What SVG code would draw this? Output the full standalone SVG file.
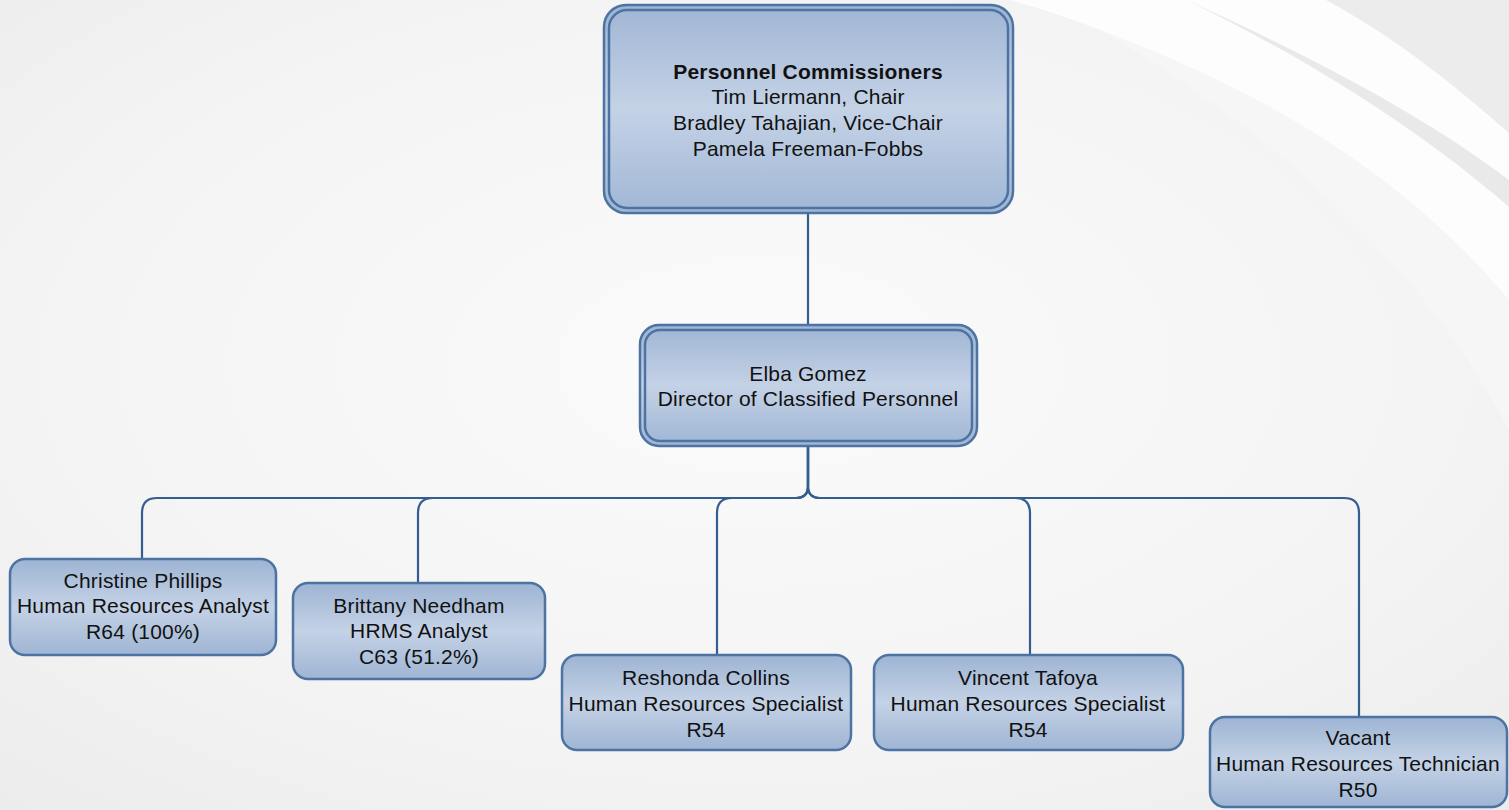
<svg xmlns="http://www.w3.org/2000/svg" width="1509" height="810" viewBox="0 0 1509 810">
<defs>
<radialGradient id="bg" cx="0.5" cy="0.45" r="0.75">
<stop offset="0" stop-color="#fbfbfb"/>
<stop offset="0.6" stop-color="#f4f4f4"/>
<stop offset="1" stop-color="#ececec"/>
</radialGradient>
<linearGradient id="boxfill" x1="0" y1="0" x2="0" y2="1">
<stop offset="0" stop-color="#9db4d3"/>
<stop offset="0.5" stop-color="#c4d2e6"/>
<stop offset="1" stop-color="#9fb5d4"/>
</linearGradient>
<linearGradient id="innerfill" x1="0" y1="0" x2="0" y2="1">
<stop offset="0" stop-color="#a2b7d5"/>
<stop offset="0.5" stop-color="#c4d2e6"/>
<stop offset="1" stop-color="#a2b8d6"/>
</linearGradient>
</defs>
<style>
.box{fill:url(#boxfill);stroke:#4d73a2;stroke-width:2.5}
.inner{fill:url(#innerfill);stroke:#4d73a2;stroke-width:2.5}
.conn path{fill:none;stroke:#345d90;stroke-width:2.2}
text{font-family:"Liberation Sans",Arial,sans-serif;font-size:21px;fill:#111;text-anchor:middle;letter-spacing:0.2px}
.b{font-weight:bold}
</style>
<rect x="0" y="0" width="1509" height="810" fill="url(#bg)"/>
<g id="swoosh">
<path d="M1010,0 L1509,0 L1509,430 C1440,260 1280,110 1100,30 C1070,18 1040,8 1010,0 Z" fill="#fdfdfd"/>
<path d="M1100,30 C1260,90 1400,170 1509,300 L1509,430 C1420,260 1270,130 1100,30 Z" fill="#f6f6f6"/>
<path d="M1186,0 C1320,60 1430,120 1509,180 L1509,207 C1420,130 1310,60 1186,0 Z" fill="#e9e9e9"/>
<path d="M1326,0 C1400,40 1460,90 1509,133 L1509,0 Z" fill="#ececec"/>
</g>
<g id="connectors" class="conn">
<path d="M808,213 V325"/>
<path d="M808,446 V486 Q808,498 796,498 H157 Q142,498 142,513 V559"/>
<path d="M808,446 V486 Q808,498 796,498 H433 Q418,498 418,513 V583"/>
<path d="M808,446 V486 Q808,498 796,498 H732 Q717,498 717,513 V655"/>
<path d="M808,446 V486 Q808,498 820,498 H1015 Q1030,498 1030,513 V655"/>
<path d="M808,446 V486 Q808,498 820,498 H1344 Q1359,498 1359,513 V717"/>
</g>
<g id="commissioners">
<rect class="box" x="604" y="5" width="409" height="208" rx="22"/>
<rect class="inner" x="609" y="10" width="399" height="198" rx="18"/>
<text class="b" x="808" y="79">Personnel Commissioners</text>
<text x="808" y="104">Tim Liermann, Chair</text>
<text x="808" y="130">Bradley Tahajian, Vice-Chair</text>
<text x="808" y="156">Pamela Freeman-Fobbs</text>
</g>
<g id="director">
<rect class="box" x="640" y="325" width="337" height="121" rx="19"/>
<rect class="inner" x="645" y="330" width="327" height="111" rx="15"/>
<text x="808" y="381">Elba Gomez</text>
<text x="808" y="406">Director of Classified Personnel</text>
</g>
<g id="christine">
<rect class="box" x="10" y="559" width="266" height="96" rx="15"/>
<text x="143" y="588">Christine Phillips</text>
<text x="143" y="613">Human Resources Analyst</text>
<text x="143" y="639">R64 (100%)</text>
</g>
<g id="brittany">
<rect class="box" x="293" y="583" width="252" height="96" rx="15"/>
<text x="419" y="613">Brittany Needham</text>
<text x="419" y="638">HRMS Analyst</text>
<text x="419" y="664">C63 (51.2%)</text>
</g>
<g id="reshonda">
<rect class="box" x="562" y="655" width="289" height="95" rx="15"/>
<text x="706" y="685">Reshonda Collins</text>
<text x="706" y="711">Human Resources Specialist</text>
<text x="706" y="737">R54</text>
</g>
<g id="vincent">
<rect class="box" x="874" y="655" width="309" height="95" rx="15"/>
<text x="1028" y="685">Vincent Tafoya</text>
<text x="1028" y="711">Human Resources Specialist</text>
<text x="1028" y="737">R54</text>
</g>
<g id="vacant">
<rect class="box" x="1210" y="717" width="297" height="90" rx="15"/>
<text x="1358" y="745">Vacant</text>
<text x="1358" y="771">Human Resources Technician</text>
<text x="1358" y="797">R50</text>
</g>
</svg>
